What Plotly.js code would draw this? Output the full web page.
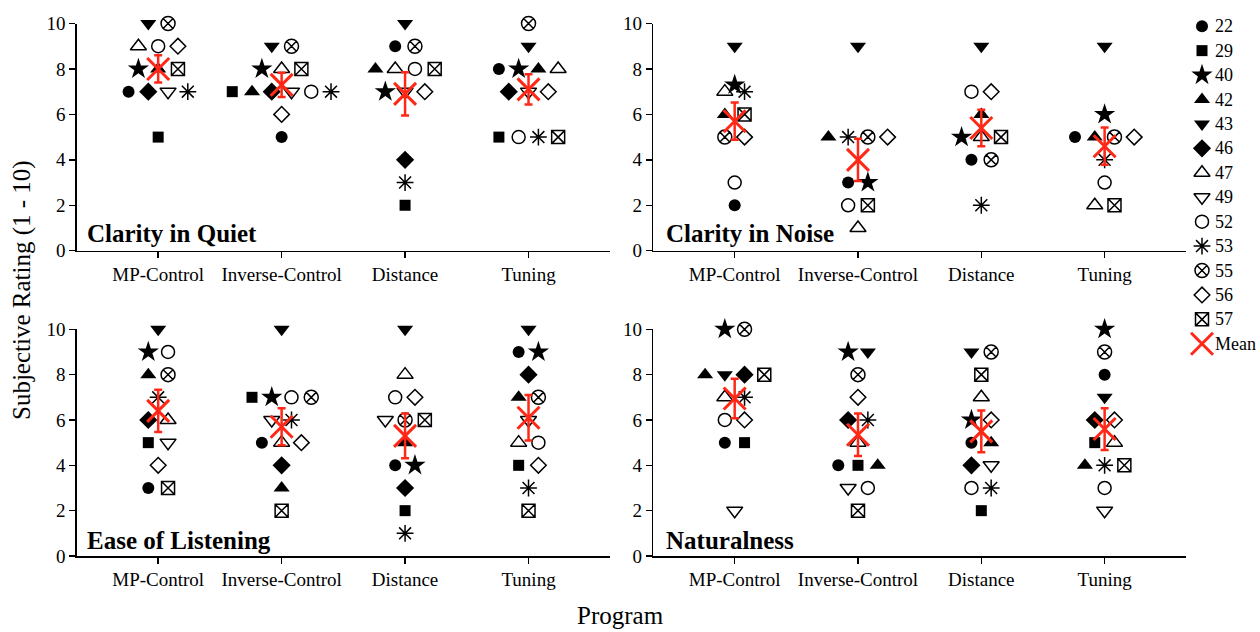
<!DOCTYPE html>
<html>
<head>
<meta charset="utf-8">
<script src="https://cdn.plot.ly/plotly-3.0.1.min.js"></script>
<style>
  html, body { margin: 0; padding: 0; background: #fff; }
  #chart { width: 1260px; height: 632px; }
</style>
</head>
<body>
<div id="chart"></div>
<script>
// ---------- data ----------
const programs = ['MP-Control', 'Inverse-Control', 'Distance', 'Tuning'];
const subjects = ['22', '29', '40', '42', '43', '46', '47', '49', '52', '53', '55', '56', '57'];

// Clarity in Quiet (values per subject, in subject order)
const quietMP   = [7, 5, 8, 8, 10, 7, 9, 7, 9, 7, 10, 9, 8];
const quietInv  = [5, 7, 8, 7, 9, 7, 8, 7, 7, 7, 9, 6, 8];
const quietDist = [9, 2, 7, 8, 10, 4, 8, 7, 8, 3, 9, 7, 8];
const quietTun  = [8, 5, 8, 8, 9, 7, 8, 7, 5, 5, 10, 7, 5];
const quietMean = [8.0, 7.3, 6.9, 7.1];
const quietErr  = [0.6, 0.53, 0.95, 0.67];

// Clarity in Noise
const noiseMP   = [2, null, 7.3, 6, 9, null, 7, null, 3, 7, 5, 5, 6];
const noiseInv  = [3, null, 3, 5, 9, null, 1, null, 2, 5, 5, 5, 2];
const noiseDist = [4, null, 5, 6, 9, null, 5, null, 7, 2, 4, 7, 5];
const noiseTun  = [5, null, 6, 5, 9, null, 2, null, 3, 4, 5, 5, 2];
const noiseMean = [5.7, 4.0, 5.4, 4.6];
const noiseErr  = [0.82, 0.93, 0.8, 0.82];

// Ease of Listening
const easeMP   = [3, 5, 9, 8, 10, 6, 6, 5, 9, 7, 8, 4, 3];
const easeInv  = [5, 7, 7, 3, 10, 4, 5, 6, 7, 6, 7, 5, 2];
const easeDist = [4, 2, 4, 5, 10, 3, 8, 6, 7, 1, 6, 7, 6];
const easeTun  = [9, 4, 9, 7, 10, 8, 5, 6, 5, 3, 7, 4, 2];
const easeMean = [6.4, 5.7, 5.3, 6.1];
const easeErr  = [0.93, 0.82, 0.99, 1.0];

// Naturalness
const natMP   = [5, 5, 10, 8, 8, 8, 7, 2, 6, 7, 10, 6, 8];
const natInv  = [4, 4, 9, 4, 9, 6, 5, 3, 3, 6, 8, 7, 2];
const natDist = [5, 2, 6, 5, 9, 4, 7, 4, 3, 3, 9, 6, 8];
const natTun  = [8, 5, 10, 4, 7, 6, 5, 2, 3, 4, 9, 6, 4];
const natMean = [6.95, 5.35, 5.5, 5.6];
const natErr  = [0.87, 0.94, 0.92, 0.92];

const yTicks = [0, 2, 4, 6, 8, 10];

// ---------- styling ----------
const FONT = '"Liberation Serif", "Times New Roman", serif';
const RED = 'rgb(255,40,22)';
const markerStyles = [
  {symbol: 'circle', size: 12},
  {symbol: 'square', size: 11},
  {symbol: 'star', size: 16},
  {symbol: 'triangle-up', size: 14},
  {symbol: 'triangle-down', size: 14},
  {symbol: 'diamond', size: 14},
  {symbol: 'triangle-up-open', size: 14},
  {symbol: 'triangle-down-open', size: 14},
  {symbol: 'circle-open', size: 13},
  {symbol: 'asterisk-open', size: 14},
  {symbol: 'circle-x-open', size: 14},
  {symbol: 'diamond-open', size: 12},
  {symbol: 'square-x-open', size: 13}
];
function markerOf(si) {
  const st = markerStyles[si];
  const open = st.symbol.indexOf('open') >= 0;
  return {symbol: st.symbol, size: st.size, color: '#000',
          line: {color: '#000', width: open ? 1.5 : 0}};
}
const meanMarker = {symbol: 'x-thin-open', size: 22, color: RED, line: {color: RED, width: 3}};

const panels = [
  {name: 'Clarity in Quiet', rows: [quietMP, quietInv, quietDist, quietTun], mean: quietMean, err: quietErr, xa: 'x', ya: 'y'},
  {name: 'Clarity in Noise', rows: [noiseMP, noiseInv, noiseDist, noiseTun], mean: noiseMean, err: noiseErr, xa: 'x2', ya: 'y2'},
  {name: 'Ease of Listening', rows: [easeMP, easeInv, easeDist, easeTun], mean: easeMean, err: easeErr, xa: 'x3', ya: 'y3'},
  {name: 'Naturalness', rows: [natMP, natInv, natDist, natTun], mean: natMean, err: natErr, xa: 'x4', ya: 'y4'}
];

// spread points that share the same rating side by side (no overlap)
const STEP = 0.16;
function spread(values) {
  const off = values.map(() => 0);
  const groups = {};
  values.forEach((v, i) => { if (v !== null) (groups[v] = groups[v] || []).push(i); });
  Object.values(groups).forEach(idx => {
    const n = idx.length;
    idx.forEach((i, k) => { off[i] = (k - (n - 1) / 2) * STEP; });
  });
  return off;
}

const traces = [];
panels.forEach((p) => {
  const offsets = p.rows.map(spread);
  subjects.forEach((s, si) => {
    const xs = [], ys = [];
    p.rows.forEach((row, prog) => {
      if (row[si] !== null) { xs.push(prog + offsets[prog][si]); ys.push(row[si]); }
    });
    traces.push({
      type: 'scatter', mode: 'markers', x: xs, y: ys,
      xaxis: p.xa, yaxis: p.ya, name: s, showlegend: false,
      cliponaxis: false, hoverinfo: 'skip', marker: markerOf(si)
    });
  });
  traces.push({
    type: 'scatter', mode: 'markers', x: programs.map((_, i) => i), y: p.mean,
    xaxis: p.xa, yaxis: p.ya, name: 'Mean', showlegend: false,
    cliponaxis: false, hoverinfo: 'skip', marker: meanMarker,
    error_y: {type: 'data', array: p.err, visible: true, color: RED, thickness: 2.5, width: 4}
  });
});

// ---------- legend (own small axis so spacing matches the reference) ----------
const legendNames = subjects.concat(['Mean']);
subjects.forEach((s, si) => {
  traces.push({type: 'scatter', mode: 'markers', x: [22], y: [si], xaxis: 'x5', yaxis: 'y5',
               showlegend: false, cliponaxis: false, hoverinfo: 'skip', marker: markerOf(si)});
});
traces.push({type: 'scatter', mode: 'markers', x: [22], y: [subjects.length], xaxis: 'x5', yaxis: 'y5',
             showlegend: false, cliponaxis: false, hoverinfo: 'skip', marker: meanMarker});

function xAxis(domain, anchor) {
  return {
    domain: domain, anchor: anchor, range: [-0.66, 3.66],
    tickmode: 'array', tickvals: programs.map((_, i) => i), ticktext: programs,
    showline: true, linecolor: '#000', linewidth: 1.5, ticks: 'outside', ticklen: 6,
    tickwidth: 1.5, tickcolor: '#000', showgrid: false, zeroline: false,
    tickfont: {family: FONT, size: 19, color: '#000'}, fixedrange: true
  };
}
function yAxis(domain, anchor) {
  return {
    domain: domain, anchor: anchor, range: [0, 10],
    tickmode: 'array', tickvals: yTicks,
    showline: true, linecolor: '#000', linewidth: 1.5, ticks: 'outside', ticklen: 6,
    tickwidth: 1.5, tickcolor: '#000', showgrid: false, zeroline: false,
    tickfont: {family: FONT, size: 19, color: '#000'}, fixedrange: true
  };
}
const hiddenAxis = (domain, anchor, range) => ({
  domain: domain, anchor: anchor, range: range, visible: false,
  showgrid: false, zeroline: false, fixedrange: true
});

const W = 1260, H = 632;
const xL = [76.7 / W, 610 / W], xR = [653.3 / W, 1186 / W];
const yT = [1 - 250.7 / H, 1 - 23.5 / H], yB = [1 - 556 / H, 1 - 329.3 / H];

const panelTitle = (text, xpx, ypx) => ({
  text: '<b>' + text + '</b>', xref: 'paper', yref: 'paper',
  x: xpx / W, y: 1 - ypx / H, xanchor: 'left', yanchor: 'middle', showarrow: false,
  font: {family: FONT, size: 25, color: '#000'}
});

const legendLabels = legendNames.map((n, i) => ({
  text: n, xref: 'x5', yref: 'y5', x: 33, y: i, xanchor: 'left', yanchor: 'middle',
  showarrow: false, font: {family: FONT, size: 18, color: '#000'}
}));

const layout = {
  width: W, height: H,
  margin: {l: 0, r: 0, t: 0, b: 0},
  paper_bgcolor: '#fff', plot_bgcolor: 'rgba(0,0,0,0)',
  font: {family: FONT, color: '#000'},
  xaxis: xAxis(xL, 'y'), yaxis: yAxis(yT, 'x'),
  xaxis2: xAxis(xR, 'y2'), yaxis2: yAxis(yT, 'x2'),
  xaxis3: xAxis(xL, 'y3'), yaxis3: yAxis(yB, 'x3'),
  xaxis4: xAxis(xR, 'y4'), yaxis4: yAxis(yB, 'x4'),
  xaxis5: hiddenAxis([1180 / W, 1260 / W], 'y5', [0, 80]),
  yaxis5: hiddenAxis([1 - 356 / H, 1 - 14 / H], 'x5', [13.5, -0.5]),
  showlegend: false,
  annotations: [
    panelTitle(panels[0].name, 85, 234),
    panelTitle(panels[1].name, 664, 234),
    panelTitle(panels[2].name, 85, 540),
    panelTitle(panels[3].name, 664, 540),
    {text: 'Subjective Rating (1 - 10)', xref: 'paper', yref: 'paper', x: 22 / W, y: 1 - 290 / H,
     textangle: -90, showarrow: false, xanchor: 'center', yanchor: 'middle',
     font: {family: FONT, size: 25, color: '#000'}},
    {text: 'Program', xref: 'paper', yref: 'paper', x: 620 / W, y: 1 - 615 / H,
     showarrow: false, xanchor: 'center', yanchor: 'middle',
     font: {family: FONT, size: 25, color: '#000'}}
  ].concat(legendLabels)
};

Plotly.newPlot('chart', traces, layout, {displayModeBar: false, staticPlot: true});
</script>
</body>
</html>
